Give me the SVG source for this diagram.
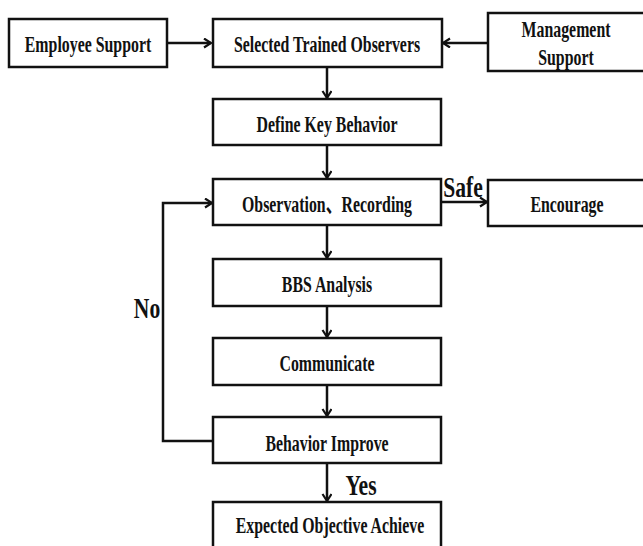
<svg xmlns="http://www.w3.org/2000/svg" width="643" height="546" viewBox="0 0 643 546">
<style>
.box{fill:#fff;stroke:#111;stroke-width:2.5}
.t{font-family:"Liberation Serif","Times New Roman","Noto Sans CJK SC",serif;font-weight:bold;font-size:23px;fill:#111;text-anchor:middle}
.big{font-size:30px}
.c{fill:none;stroke:#111;stroke-width:2.5}
</style>
<defs>
<marker id="ah" markerWidth="12" markerHeight="12" refX="9" refY="5" orient="auto" markerUnits="userSpaceOnUse">
<path d="M2,0.5 L9,5 L2,9.5" fill="none" stroke="#111" stroke-width="2.2"/>
</marker>
</defs>
<rect width="643" height="546" fill="#fff"/>
<g id="connectors">
<line class="c" x1="167" y1="43" x2="211" y2="43" marker-end="url(#ah)"/>
<line class="c" x1="488" y1="43" x2="443" y2="43" marker-end="url(#ah)"/>
<line class="c" x1="327" y1="67" x2="327" y2="98" marker-end="url(#ah)"/>
<line class="c" x1="327" y1="145" x2="327" y2="178" marker-end="url(#ah)"/>
<line class="c" x1="441" y1="202" x2="487" y2="202" marker-end="url(#ah)"/>
<line class="c" x1="327" y1="225" x2="327" y2="258" marker-end="url(#ah)"/>
<line class="c" x1="327" y1="306" x2="327" y2="337" marker-end="url(#ah)"/>
<line class="c" x1="327" y1="385" x2="327" y2="416" marker-end="url(#ah)"/>
<line class="c" x1="327" y1="463" x2="327" y2="501" marker-end="url(#ah)"/>
<polyline class="c" points="213,441 163,441 163,203 212,203" marker-end="url(#ah)"/>
<text class="t big" transform="translate(463,197) scale(0.72,1)">Safe</text>
<text class="t big" transform="translate(147,318) scale(0.72,1)">No</text>
<text class="t big" transform="translate(361,495) scale(0.72,1)">Yes</text>
</g>
<g id="employee-support">
<rect class="box" x="9" y="19" width="158" height="48"/>
<text class="t" transform="translate(88,52) scale(0.69,1)">Employee Support</text>
</g>
<g id="selected-trained-observers">
<rect class="box" x="213" y="19" width="229" height="48"/>
<text class="t" transform="translate(327,52) scale(0.69,1)">Selected Trained Observers</text>
</g>
<g id="management-support">
<rect class="box" x="488" y="13" width="170" height="58"/>
<text class="t" transform="translate(566,37) scale(0.69,1)">Management</text>
<text class="t" transform="translate(566,65) scale(0.69,1)">Support</text>
</g>
<g id="define-key-behavior">
<rect class="box" x="213" y="99" width="228" height="46"/>
<text class="t" transform="translate(327,132) scale(0.69,1)">Define Key Behavior</text>
</g>
<g id="observation-recording">
<rect class="box" x="213" y="179" width="228" height="46"/>
<text class="t" transform="translate(327,212) scale(0.69,1)">Observation、Recording</text>
</g>
<g id="encourage">
<rect class="box" x="488" y="180" width="170" height="46"/>
<text class="t" transform="translate(567,212) scale(0.69,1)">Encourage</text>
</g>
<g id="bbs-analysis">
<rect class="box" x="213" y="259" width="228" height="47"/>
<text class="t" transform="translate(327,292) scale(0.69,1)">BBS Analysis</text>
</g>
<g id="communicate">
<rect class="box" x="213" y="338" width="228" height="47"/>
<text class="t" transform="translate(327,371) scale(0.69,1)">Communicate</text>
</g>
<g id="behavior-improve">
<rect class="box" x="213" y="417" width="228" height="46"/>
<text class="t" transform="translate(327,451) scale(0.69,1)">Behavior Improve</text>
</g>
<g id="expected-objective-achieve">
<rect class="box" x="213" y="502" width="228" height="60"/>
<text class="t" transform="translate(330,533) scale(0.69,1)">Expected Objective Achieve</text>
</g>
</svg>
